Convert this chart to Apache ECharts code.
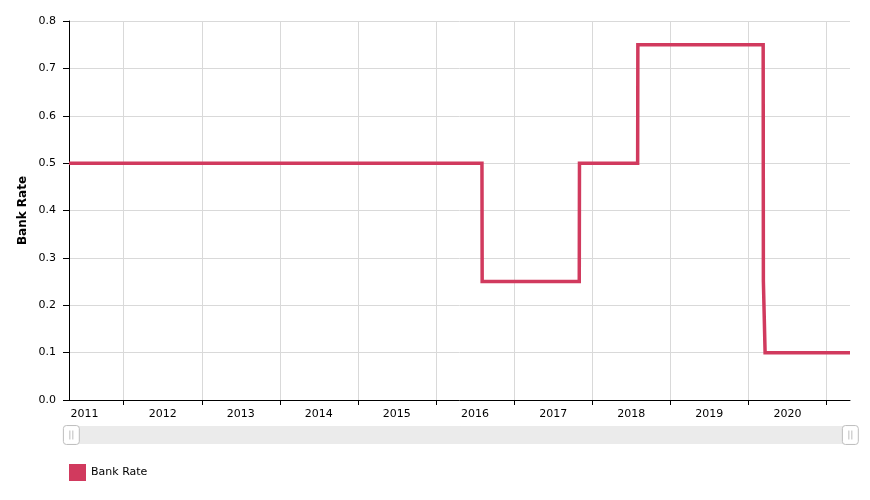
<!DOCTYPE html>
<html>
<head>
<meta charset="utf-8">
<script src="https://cdn.jsdelivr.net/npm/echarts@6/dist/echarts.min.js"></script>
<style>
html,body{margin:0;padding:0;background:#fff;}
#chart{width:870px;height:500px;}
</style>
</head>
<body>
<div id="chart"></div>
<script>
// Corner points of the Bank Rate line (date, rate %)
const dates = ['2011-04-21','2016-08-03','2016-08-04','2017-11-01','2017-11-02','2018-08-01','2018-08-02','2020-03-10','2020-03-11','2020-03-19','2021-04-20'];
const rates = [0.5, 0.5, 0.25, 0.25, 0.5, 0.5, 0.75, 0.75, 0.25, 0.1, 0.1];
// Year labels (centred within each year) and year boundaries (grid lines)
const years = [2011, 2012, 2013, 2014, 2015, 2016, 2017, 2018, 2019, 2020];
const yearStarts = ['2012-01-01','2013-01-01','2014-01-01','2015-01-01','2016-01-01','2017-01-01','2018-01-01','2019-01-01','2020-01-01','2021-01-01'];
const axisStart = '2011-04-21';
const axisEnd = '2021-04-20';
const seriesName = 'Bank Rate';

const FONT = 'DejaVu Sans, Verdana, sans-serif';
const ts = d => Date.parse(d + 'T00:00:00Z');
const chart = echarts.init(document.getElementById('chart'), null, {renderer: 'canvas'});
const data = dates.map((d, i) => [ts(d), rates[i]]);
const labelValues = years.map(y => Date.UTC(y, 6, 2));
const tickValues = yearStarts.map(ts);

chart.setOption({
  animation: false,
  textStyle: {fontFamily: FONT},
  grid: {left: 69, right: 20, top: 21, bottom: 100, containLabel: false},
  xAxis: {
    type: 'value',
    min: ts(axisStart),
    max: ts(axisEnd),
    axisLine: {show: true, onZero: false, lineStyle: {color: '#000', width: 1}},
    axisTick: {show: true, customValues: tickValues, length: 5, lineStyle: {color: '#000'}},
    splitLine: {show: true, lineStyle: {color: '#d9d9d9', width: 1}},
    axisLabel: {
      customValues: labelValues,
      formatter: v => String(new Date(v).getUTCFullYear()),
      color: '#000', fontSize: 11, fontFamily: FONT, margin: 9,
      hideOverlap: false
    }
  },
  yAxis: {
    type: 'value',
    min: 0, max: 0.8, interval: 0.1,
    name: seriesName,
    nameLocation: 'middle',
    nameGap: 40,
    nameMoveOverlap: false,
    nameTextStyle: {fontWeight: 'bold', fontSize: 12, color: '#000', fontFamily: FONT},
    axisLine: {show: true, lineStyle: {color: '#000', width: 1}},
    axisTick: {show: true, length: 6, lineStyle: {color: '#000'}},
    splitLine: {show: true, lineStyle: {color: '#d9d9d9', width: 1}},
    axisLabel: {formatter: v => v.toFixed(1), color: '#000', fontSize: 11, fontFamily: FONT, margin: 13}
  },
  dataZoom: [{
    type: 'slider',
    xAxisIndex: 0,
    left: 69, right: 20, top: 426, height: 18,
    start: 0, end: 100,
    showDataShadow: false,
    showDetail: false,
    brushSelect: false,
    moveHandleSize: 0,
    backgroundColor: '#ebebeb',
    fillerColor: 'rgba(0,0,0,0)',
    borderColor: '#ebebeb',
    borderRadius: 0,
    handleIcon: 'path://M3,0 H13 Q16,0 16,3 V16 Q16,19 13,19 H3 Q0,19 0,16 V3 Q0,0 3,0 Z M6.5,5 V14 M9.5,5 V14',
    handleSize: '105%',
    handleStyle: {color: '#fff', borderColor: '#bdbdbd', borderWidth: 1},
    emphasis: {handleStyle: {color: '#fff', borderColor: '#bdbdbd', borderWidth: 1}}
  }],
  legend: {
    left: 64, top: 459,
    itemWidth: 17, itemHeight: 17, itemGap: 10,
    icon: 'rect',
    textStyle: {fontSize: 11, color: '#000', fontFamily: FONT},
    data: [seriesName]
  },
  series: [{
    name: seriesName,
    type: 'line',
    data: data,
    showSymbol: false,
    symbol: 'none',
    color: '#d13a5e',
    lineStyle: {width: 3.5, color: '#d13a5e', join: 'miter'},
    itemStyle: {color: '#d13a5e'}
  }]
});
</script>
</body>
</html>
